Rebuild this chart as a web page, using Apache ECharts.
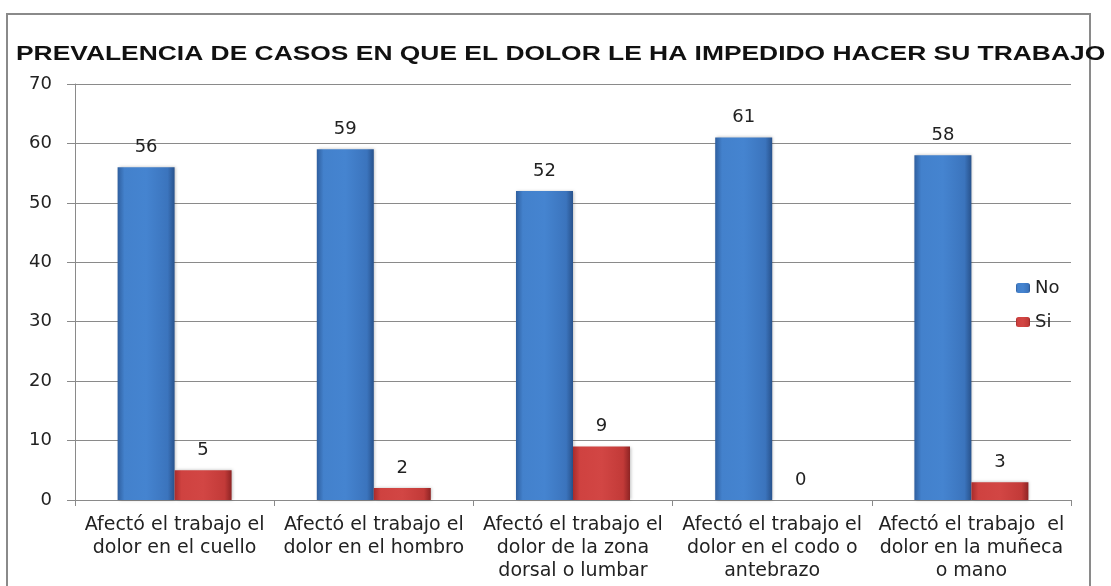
<!DOCTYPE html>
<html><head><meta charset="utf-8">
<script src="https://cdn.jsdelivr.net/npm/echarts@6/dist/echarts.min.js"></script>
<style>html,body{margin:0;padding:0;background:#fff}#c{width:1111px;height:586px}</style>
</head><body><div id="c"></div>
<script>
const titleText = 'PREVALENCIA DE CASOS EN QUE EL DOLOR LE HA IMPEDIDO HACER SU TRABAJO';
const categories = [
  'Afectó el trabajo el\ndolor en el cuello',
  'Afectó el trabajo el\ndolor en el hombro',
  'Afectó el trabajo el\ndolor de la zona\ndorsal o lumbar',
  'Afectó el trabajo el\ndolor en el codo o\nantebrazo',
  'Afectó el trabajo  el\ndolor en la muñeca\no mano'
];
const seriesNames = ['No', 'Si'];
const noValues = [56, 59, 52, 61, 58];
const siValues = [5, 2, 9, 0, 3];
const yTicks = [0, 10, 20, 30, 40, 50, 60, 70];

const chart = echarts.init(document.getElementById('c'), null, {renderer: 'canvas'});
const font = '"DejaVu Sans", Verdana, sans-serif';
const blue = new echarts.graphic.LinearGradient(0, 0, 1, 0, [
  {offset: 0, color: '#2f5f9f'}, {offset: 0.12, color: '#4381cc'},
  {offset: 0.5, color: '#4584d0'}, {offset: 0.88, color: '#3b74bd'}, {offset: 1, color: '#28528c'}]);
const red = new echarts.graphic.LinearGradient(0, 0, 1, 0, [
  {offset: 0, color: '#a82c2c'}, {offset: 0.12, color: '#cf4240'},
  {offset: 0.5, color: '#d24644'}, {offset: 0.88, color: '#c23a38'}, {offset: 1, color: '#8e2424'}]);

chart.setOption({
  animation: false,
  graphic: [
    {type: 'rect', shape: {x: 7, y: 14, width: 1083, height: 600}, style: {fill: 'none', stroke: '#8a8a8a', lineWidth: 2}, z: -1},
    {type: 'text', x: 16, y: 44, scaleX: 1.257, style: {text: titleText, font: 'bold 21px "Liberation Sans", Arial, sans-serif', fill: '#111'}}
  ],
  legend: {
    data: seriesNames, orient: 'vertical', left: 1011, top: 274,
    itemWidth: 14, itemHeight: 10, itemGap: 16,
    textStyle: {fontFamily: font, fontSize: 18, color: '#222', lineHeight: 18}
  },
  grid: {left: 75, right: 40, top: 84, bottom: 86},
  xAxis: {
    type: 'category', data: categories,
    axisLine: {lineStyle: {color: '#8a8a8a', width: 1}},
    axisTick: {show: true, length: 6, lineStyle: {color: '#8a8a8a'}},
    axisLabel: {fontFamily: font, fontSize: 19, color: '#222', lineHeight: 23, margin: 14, interval: 0}
  },
  yAxis: {
    type: 'value', min: yTicks[0], max: yTicks[yTicks.length - 1], interval: 10,
    axisLine: {show: true, lineStyle: {color: '#8a8a8a', width: 1}},
    axisTick: {show: true, length: 8, lineStyle: {color: '#8a8a8a'}},
    splitLine: {lineStyle: {color: '#8a8a8a', width: 1}},
    axisLabel: {fontFamily: font, fontSize: 18, color: '#222', margin: 23}
  },
  series: [
    {name: seriesNames[0], type: 'bar', data: noValues, barWidth: 57, barGap: '0%',
     itemStyle: {color: blue, shadowColor: 'rgba(0,0,0,0.25)', shadowBlur: 3, shadowOffsetX: 1},
     label: {show: true, position: 'top', distance: 11, fontFamily: font, fontSize: 18, color: '#222'}},
    {name: seriesNames[1], type: 'bar', data: siValues, barWidth: 57, barGap: '0%',
     itemStyle: {color: red, shadowColor: 'rgba(0,0,0,0.25)', shadowBlur: 3, shadowOffsetX: 1},
     label: {show: true, position: 'top', distance: 11, fontFamily: font, fontSize: 18, color: '#222'}}
  ]
});
</script></body></html>
